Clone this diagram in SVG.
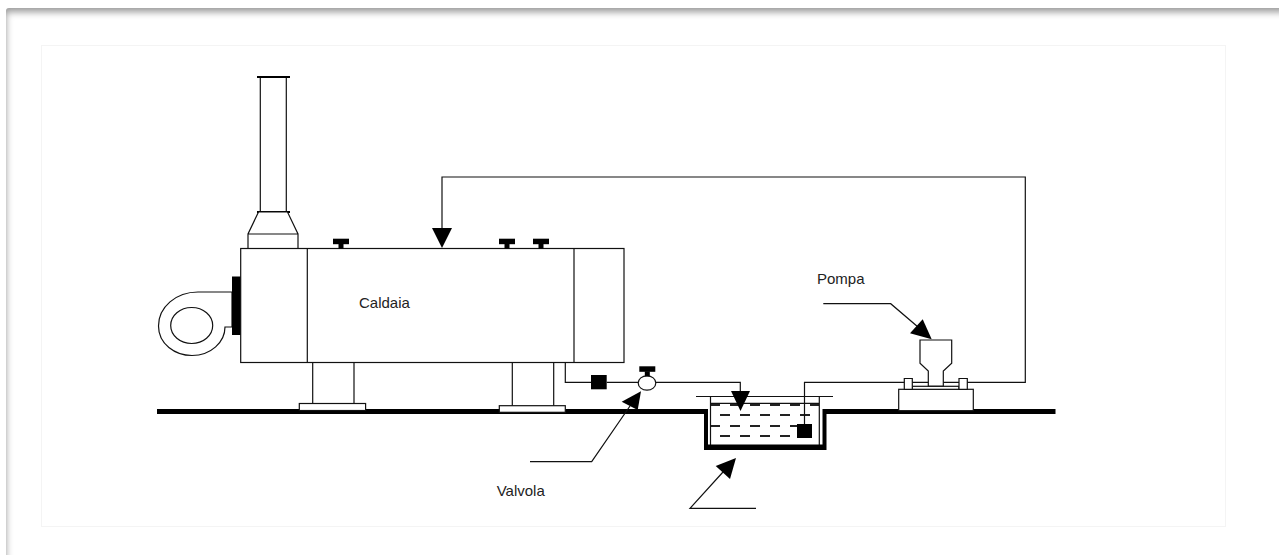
<svg xmlns="http://www.w3.org/2000/svg" width="1279" height="555" viewBox="0 0 1279 555">
<style>
.l{fill:none;stroke:#111;stroke-width:1.2}
.w{fill:#fff;stroke:#111;stroke-width:1.2}
.k{fill:#000;stroke:none}
.d{stroke:#222;stroke-width:2;fill:none;stroke-dasharray:10 10}
text{font-family:"Liberation Sans",Arial,sans-serif;font-size:15px;fill:#222}
</style>
<defs>
<clipPath id="pc"><rect x="6" y="8" width="1300" height="600" rx="3"/></clipPath>
<filter id="bl" filterUnits="userSpaceOnUse" x="-20" y="-20" width="1400" height="700"><feGaussianBlur stdDeviation="3.5"/></filter>
<g id="tap"><rect class="k" x="-8" y="0" width="16" height="5.500"/><rect class="k" x="-2.500" y="5" width="5" height="5"/></g>
</defs>
<rect width="1279" height="555" fill="#fff"/>
<g id="page">
<g clip-path="url(#pc)"><rect x="6" y="8" width="1300" height="600" fill="#999"/><rect x="6" y="12" width="1330" height="620" fill="#fff" filter="url(#bl)"/></g>
<rect x="41.500" y="45.500" width="1184" height="481" fill="#fff" stroke="#f4f4f4"/>
</g>
<g id="camino">
<path class="l" d="M260.300 77V212M286.300 77V212"/>
<rect class="k" x="257" y="76" width="33" height="2"/>
<rect class="k" x="257" y="211" width="33" height="2"/>
<path class="w" d="M258.500 212L248 234V248.500H298V234L287.500 212ZM248 234H298"/>
</g>
<g id="bruciatore">
<path class="w" d="M232 292H198C176 292 158.500 307 158.500 326C158.500 344 175 355.500 192 355.500C211 355.500 225 342 225 327H232Z"/>
<ellipse class="w" cx="191.700" cy="325.500" rx="21" ry="18"/>
<rect class="k" x="232" y="276.500" width="9" height="58.500"/>
</g>
<g id="caldaia">
<rect class="w" x="240.700" y="248.500" width="383.300" height="114"/>
<path class="l" d="M307.300 248V362M574 248V362"/>
<use href="#tap" x="341" y="238.700"/><use href="#tap" x="507" y="238.700"/><use href="#tap" x="541" y="238.700"/>
<text x="359" y="308">Caldaia</text>
</g>
<g id="supporti">
<path class="l" d="M312.700 362V404M354 362V404M512.300 362V406M553.700 362V406"/>
</g>
<g id="ground"><rect class="k" x="157" y="409" width="550" height="5"/><rect class="k" x="823" y="409" width="232.500" height="5"/></g>
<g id="basi">
<rect class="w" x="299.300" y="403.500" width="66.300" height="7"/>
<rect class="w" x="499.300" y="405.700" width="66" height="6.600"/>
</g>
<g id="valvola">
<ellipse class="w" cx="647" cy="383" rx="8.800" ry="7.200"/>
<use href="#tap" x="647.300" y="366.300"/>
<rect class="k" x="591" y="375" width="15.700" height="14.300"/>
<text x="496.700" y="495.700">Valvola</text>
</g>
<g id="vasca">
<path class="d" d="M711 405H720M730 405H819" stroke-dashoffset="0"/>
<path class="d" d="M720 415H810"/>
<path class="d" d="M711 426H720M730 426H800"/>
<path class="d" d="M720 436H800"/>
<path class="l" d="M696 396.500H833M710.500 396V445M819.300 396V445M710.500 403.300H819.300"/>
<path class="k" d="M704 409H708V444.500H822.500V409H826.500V450H704Z"/>
<rect class="k" x="797" y="424" width="15" height="14"/>
</g>
<g id="pompa">
<rect class="w" x="898.700" y="389.300" width="74.600" height="21.400"/>
<rect class="w" x="912.300" y="386.300" width="46.700" height="3"/>
<path class="w" d="M904.300 378.500H912.300V389.300H904.300ZM959 378.500H967.300V389.300H959Z"/>
<path class="w" d="M920 340H951.700V363.300L943.300 371V386H928.300V371L920 363.300Z"/>
<path class="l" d="M912.300 382.300H928.300M943.300 382.300H959"/>
<text x="817" y="284">Pompa</text>
</g>
<g id="connettori">
<path class="l" d="M565.300 362V382.400H591M606.700 382.400H638.300M655.800 382.400H740.300V392"/>
<path class="k" d="M731 391H750L740.500 411Z"/>
<path class="l" d="M804.500 424V382.300H904.300M967.300 382.300H1025.300V177H442V230"/>
<path class="k" d="M432 228H452L442 248Z"/>
<path class="l" d="M530 461.700H591.700L630 406"/>
<path class="k" d="M641 391.300L621.700 401.700L637.700 410Z"/>
<path class="l" d="M756 508.300H690L723 472"/>
<path class="k" d="M736 458L715.700 466L730 479Z"/>
<path class="l" d="M823.300 303.700H890.700L918 327"/>
<path class="k" d="M931.700 339.300L922.700 319.300L910 333.300Z"/>
</g>
</svg>
